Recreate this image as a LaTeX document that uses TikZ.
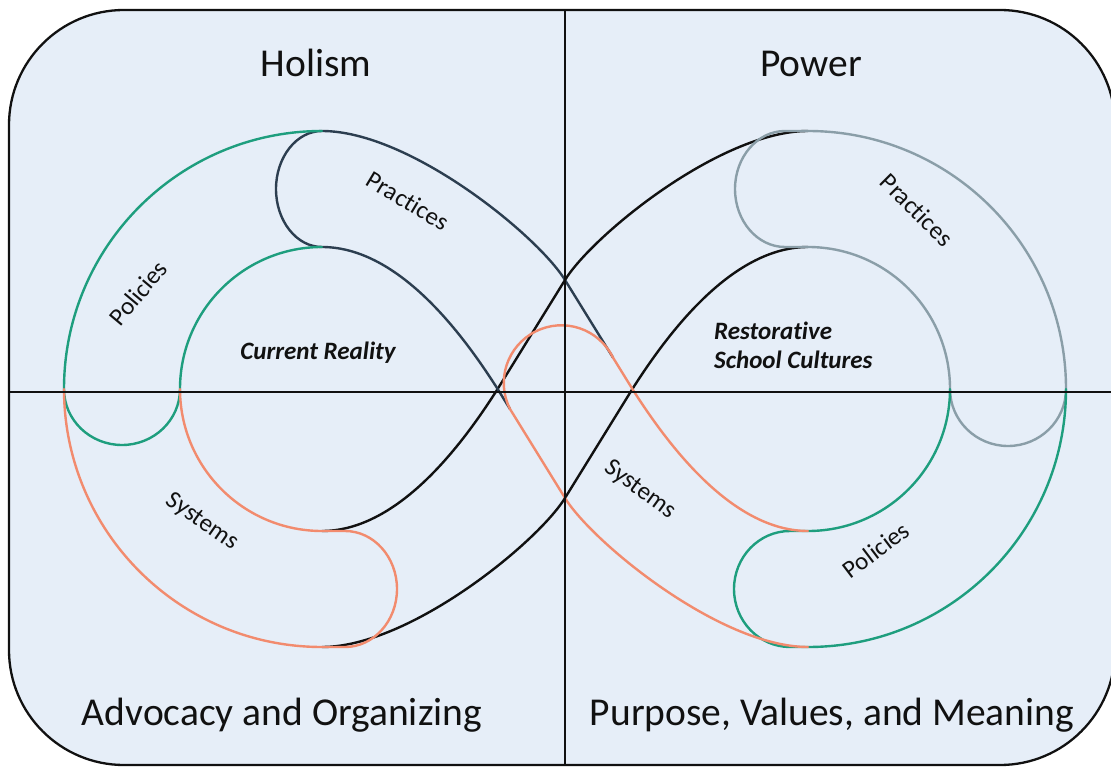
\documentclass[tikz,border=0pt]{standalone}
\usepackage{fontspec}
\setmainfont{Carlito}[Ligatures={NoCommon}]
\definecolor{bgblue}{HTML}{E6EEF8}
\definecolor{tealc}{HTML}{1E9E7E}
\definecolor{navyc}{HTML}{2C3E50}
\definecolor{orangec}{HTML}{F28B6E}
\definecolor{grayc}{HTML}{8A9EA8}
\definecolor{inkc}{HTML}{111111}
\begin{document}
\begin{tikzpicture}[x=1pt,y=-1pt,
  band/.style={line width=2.4pt, line cap=round, line join=round},
  axisline/.style={line width=2pt, draw=inkc},
  biglabel/.style={font=\fontsize{39.5}{44}\selectfont, text=inkc, inner sep=0pt, anchor=base},
  seglabel/.style={font=\fontsize{25}{29}\selectfont, text=inkc, inner sep=0pt},
  centerlabel/.style={font=\fontsize{25}{29}\selectfont\bfseries\itshape, text=inkc, inner sep=0pt}]
\useasboundingbox (0,0) rectangle (1111,767);
\fill[white] (0,0) rectangle (1111,767);
% frame
\draw[line width=2.3pt, draw=inkc, fill=bgblue, rounded corners=115pt] (9,10) rectangle (1115,765);

% black crossing band
\draw[band, draw=inkc] (322,531) .. controls (400,531) and (465,440) .. (497,390) -- (565,280) .. controls (592,236) and (720,131) .. (808,131);
\draw[band, draw=inkc] (808,247) .. controls (730,247) and (665,338) .. (633,388) -- (565,498) .. controls (538,542) and (410,647) .. (322,647);

% left Practices (navy)
\draw[band, draw=navyc] (613,357.6) -- (565,280) .. controls (538,236) and (410,131) .. (322,131)
  .. controls (296.6,131) and (276,157) .. (276,189) .. controls (276,221) and (296.6,247) .. (322,247)
  .. controls (400,247) and (465,338) .. (497,388) -- (510,409);

% left Policies (teal)
\draw[band, draw=tealc] (322,131) .. controls (179.5,131) and (64,246.5) .. (64,389)
  .. controls (64,420) and (90,445) .. (122,445) .. controls (154,445) and (180,420) .. (180,389)
  .. controls (180,310.6) and (243.6,247) .. (322,247);

% left Systems (orange)
\draw[band, draw=orangec] (64,389) .. controls (64,531.5) and (179.5,647) .. (322,647) -- (345,647)
  .. controls (373.7,647) and (397,621) .. (397,589) .. controls (397,557) and (373.7,531) .. (345,531)
  -- (322,531) .. controls (243.6,531) and (180,467.4) .. (180,389);

% right Practices (gray)
\draw[band, draw=grayc] (1066,389) .. controls (1066,246.5) and (950.5,131) .. (808,131) -- (785,131)
  .. controls (757.4,131) and (735,157) .. (735,189) .. controls (735,221) and (757.4,247) .. (785,247)
  -- (808,247) .. controls (886.4,247) and (950,310.6) .. (950,389)
  .. controls (950,420.5) and (976,446) .. (1008,446) .. controls (1040,446) and (1066,420.5) .. (1066,389);

% right Policies (teal)
\draw[band, draw=tealc] (1066,389) .. controls (1066,531.5) and (950.5,647) .. (808,647) -- (790,647)
  .. controls (759,647) and (734,621) .. (734,589) .. controls (734,557) and (759,531) .. (790,531)
  -- (808,531) .. controls (886.4,531) and (950,467.4) .. (950,389);

% right Systems (orange)
\draw[band, draw=orangec] (808,647) .. controls (720,647) and (592,542) .. (565,498) -- (510,409)
  .. controls (495.6,380.5) and (507,345.9) .. (535.5,331.5) .. controls (564,317.1) and (598.6,328.5) .. (613,357.6)
  -- (633,390) .. controls (665,440) and (730,531) .. (808,531);

% axes
\draw[axisline] (565,10) -- (565,765);
\draw[axisline] (9,392) -- (1111,392);

% labels
\node[biglabel] (holism) at (316,77) {Holism};
\node[biglabel] (power) at (811,77) {Power};
\node[biglabel] (advocacy) at (282,725) {Advocacy and Organizing};
\node[biglabel] (purpose) at (832,725) {Purpose, Values, and Meaning};

\node[seglabel, rotate=-31] (practL) at (408,201) {Practices};
\node[seglabel, rotate=50] (policL) at (138,293) {Policies};
\node[seglabel, rotate=-35] (systL) at (202,522) {Systems};
\node[seglabel, rotate=-45] (practR) at (917,210) {Practices};
\node[seglabel, rotate=-36] (systR) at (640,490) {Systems};
\node[seglabel, rotate=37] (policR) at (876,550) {Policies};

\node[centerlabel] (current) at (318,353) {Current Reality};
\node[centerlabel, anchor=west, align=left] (restor) at (714,345) {Restorative\\School Cultures};
\end{tikzpicture}
\end{document}
